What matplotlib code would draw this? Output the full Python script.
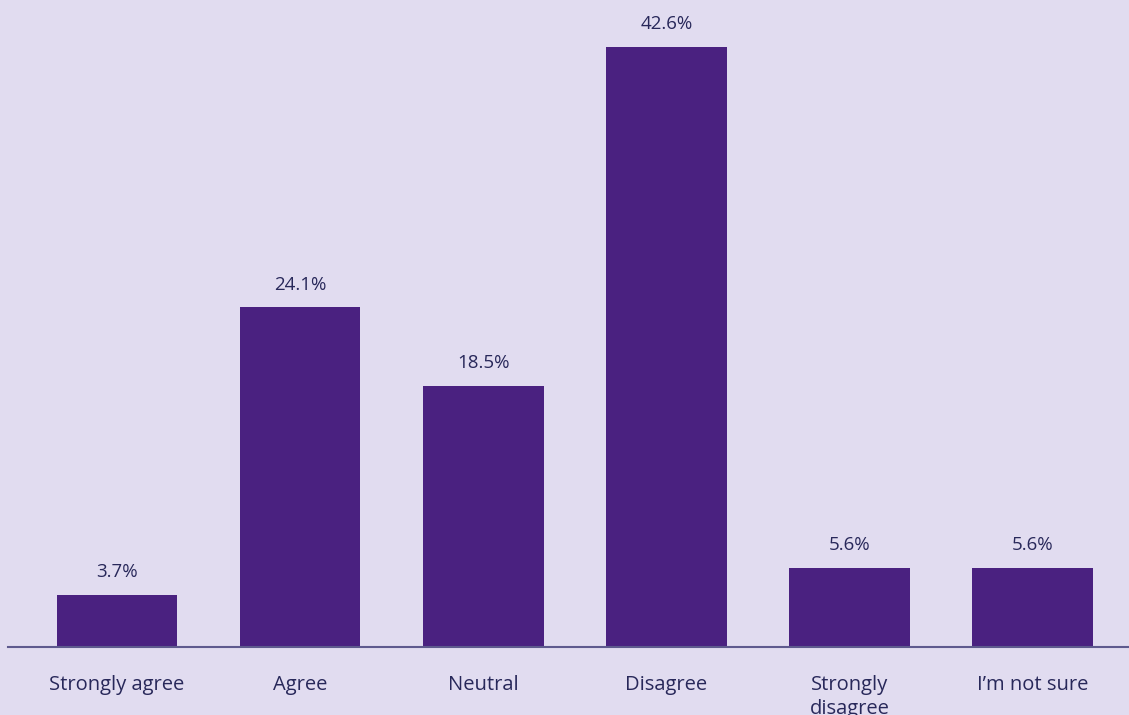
import matplotlib.pyplot as plt
import numpy as np

# survey answers and share of respondents (%)
categories = ["Strongly agree", "Agree", "Neutral", "Disagree", "Strongly\ndisagree", "I\u2019m not sure"]
shares = [3.7, 24.1, 18.5, 42.6, 5.6, 5.6]
value_labels = ["3.7%", "24.1%", "18.5%", "42.6%", "5.6%", "5.6%"]

BG = "#E1DCF0"
BAR = "#4A2180"
TEXT = "#28285A"
AXIS = "#5E5A8E"

plt.rcParams["font.family"] = ["Open Sans", "DejaVu Sans"]

fig = plt.figure(figsize=(11.29, 7.15), dpi=100, facecolor=BG)
ax = fig.add_axes([8 / 1129, 68 / 715, 1 - 8 / 1129, (647 - 6) / 715])
ax.set_facecolor(BG)

x = np.arange(len(categories))
bars = ax.bar(x, shares, width=0.66, color=BAR, zorder=2)

for rect, lab in zip(bars, value_labels):
    ax.annotate(lab, (rect.get_x() + rect.get_width() / 2, rect.get_height()),
                xytext=(0, 10), textcoords="offset points",
                ha="center", va="bottom", fontsize=13.5, color=TEXT)

ax.set_xlim(-0.595, 5.527)
ax.set_ylim(0, 45.5)
ax.set_xticks(x)
ax.set_xticklabels(categories, fontsize=14.5, color=TEXT, linespacing=1.3)
ax.tick_params(axis="x", length=0, pad=20)
ax.set_yticks([])

for side in ["top", "right", "left"]:
    ax.spines[side].set_visible(False)
ax.spines["bottom"].set_color(AXIS)
ax.spines["bottom"].set_linewidth(1.5)

fig.savefig("out.png", dpi=100, facecolor=BG)
